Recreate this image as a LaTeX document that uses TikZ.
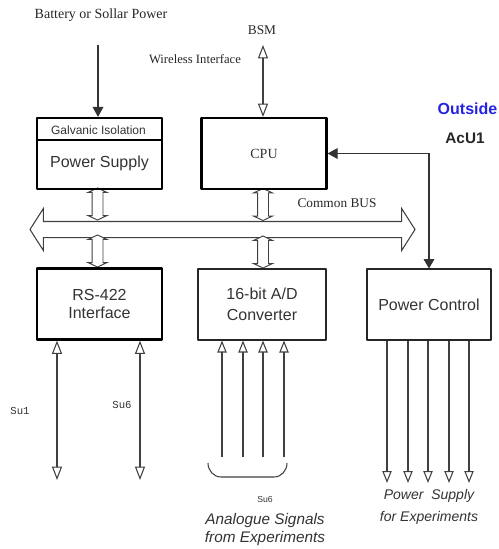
\documentclass[tikz,border=0pt]{standalone}
\usepackage{fontspec}
\setmainfont{Liberation Serif}
\setsansfont{Liberation Sans}
\setmonofont{Liberation Mono}
\usetikzlibrary{arrows.meta,shapes.arrows}
\definecolor{outsideblue}{RGB}{35,35,225}

\begin{document}
\begin{tikzpicture}[x=0.75pt,y=-0.75pt]
\tikzset{
  thickbox/.style={rectangle,draw=black,line width=1.6pt,line join=round,minimum width=93.75pt,minimum height=53.25pt,inner sep=0pt,align=center,text=black!80,font=\sffamily\fontsize{12}{13.5}\selectfont},
  thinbox/.style={thickbox,draw=black!85,line width=0.8pt},
  busarrow/.style={double arrow,draw=black!75,line width=0.8pt,minimum height=288.75pt,inner sep=5.625pt,double arrow head extend=9.75pt,double arrow tip angle=115},
  busjoint/.style={double arrow,draw=black!75,line width=0.7pt,fill=white,shape border rotate=90,minimum height=24pt,inner sep=3.75pt,double arrow head extend=3pt,double arrow tip angle=130},
  sigarrow/.style={draw=black!75,line width=0.8pt,line cap=round,{Triangle[open,length=10pt,width=7.5pt]}-{Triangle[open,length=10pt,width=7.5pt]}},
  inarrow/.style={draw=black!75,line width=0.8pt,-{Triangle[open,length=9pt,width=7pt]}},
  feedarrow/.style={draw=black!80,line width=0.8pt,{Triangle[length=7.5pt,width=8pt]}-{Triangle[length=7pt,width=8pt]}},
  powerin/.style={draw=black!80,line width=0.9pt,-{Triangle[length=7.5pt,width=8pt]}},
  serlabel/.style={inner sep=0pt,text=black!85,font=\rmfamily\fontsize{10}{12}\selectfont},
  sulabel/.style={inner sep=0pt,text=black!80,font=\ttfamily\fontsize{8}{10}\selectfont},
  explabel/.style={inner sep=0pt,align=center,text=black!80,font=\sffamily\itshape\fontsize{11.5}{14}\selectfont}
}
\useasboundingbox (0,0) rectangle (499,549);
\node[busarrow] (n_bus) at (222.5,229.5) {};
\node[busjoint] (n_ps_bus) at (97.5,204) {};
\node[busjoint] (n_bus_rs) at (97.5,251) {};
\node[busjoint] (n_cpu_bus) at (263,204.5) {};
\node[busjoint] (n_bus_adc) at (263,252) {};
\node[thickbox] (n_ps) at (99.5,153.5) {};
\node[thickbox,font=\rmfamily\fontsize{10.5}{12}\selectfont] (n_cpu) at (264,153.5) {CPU};
\node[thickbox] (n_rs) at (99.5,304) {RS-422\\Interface};
\node[thinbox,minimum width=96pt,font=\sffamily\fontsize{12}{15.5}\selectfont] (n_adc) at (262,304.5) {16-bit A/D\\Converter};
\node[thinbox,minimum width=93pt] (n_pc) at (429,304.5) {Power Control};
\node[inner sep=0pt,text=black!80,font=\sffamily\fontsize{9}{10}\selectfont] (n_galv) at (98.5,130) {Galvanic Isolation};
\node[inner sep=0pt,text=black!80,font=\sffamily\fontsize{12}{13}\selectfont] (n_pslbl) at (99.5,163) {Power Supply};
\node[serlabel,font=\rmfamily\fontsize{10.5}{12}\selectfont] (n_batt) at (101,15) {Battery or Sollar Power};
\node[serlabel,font=\rmfamily\fontsize{9.5}{11}\selectfont] (n_wifi) at (195,59) {Wireless Interface};
\node[serlabel] (n_bsm) at (262,30) {BSM};
\node[serlabel] (n_buslbl) at (337,203) {Common BUS};
\node[inner sep=0pt,text=outsideblue,font=\sffamily\bfseries\fontsize{12}{14}\selectfont] (n_outside) at (467.5,109) {Outside};
\node[inner sep=0pt,text=black!85,font=\sffamily\bfseries\fontsize{11.5}{14}\selectfont] (n_acu) at (465,138) {AcU1};
\node[sulabel] (n_su1) at (20,411) {Su1};
\node[sulabel] (n_su6) at (122,405) {Su6};
\node[inner sep=0pt,text=black!80,font=\sffamily\fontsize{6.5}{8}\selectfont] (n_su6b) at (265,500) {Su6};
\node[explabel] (n_analog) at (265,529.5) {Analogue Signals\\from Experiments};
\node[explabel,font=\sffamily\itshape\fontsize{10.5}{16.5}\selectfont] (n_pwrexp) at (429,507) {Power\ \ Supply\\for Experiments};
\coordinate (c_batt) at (98,45);
\coordinate (c_bsm) at (263,45);
\coordinate (c_su1) at (57,480);
\coordinate (c_su6) at (140,480);
\draw[line width=0.8pt] (n_ps.west |- 0,140) -- (n_ps.east |- 0,140);
\draw[powerin] (c_batt) -- (c_batt |- n_ps.north);
\draw[sigarrow] (c_bsm) -- (c_bsm |- n_cpu.north);
\draw[feedarrow] (n_cpu.east) -| (n_pc.north);
\draw[sigarrow] (c_su1 |- n_rs.south) -- (c_su1);
\draw[sigarrow] (c_su6 |- n_rs.south) -- (c_su6);
\foreach \xx in {222,243,263,284}
  \draw[inarrow] (\xx,457) -- (n_adc.south -| \xx,0);
\foreach \xx in {387,408,428,449,469}
  \draw[inarrow] (n_pc.south -| \xx,0) -- (\xx,483);
\draw[draw=black!75,line width=0.8pt] (208,463) to[out=-90,in=180] (221,477) -- (274,477) to[out=0,in=-90] (287,463);
\end{tikzpicture}
\end{document}
